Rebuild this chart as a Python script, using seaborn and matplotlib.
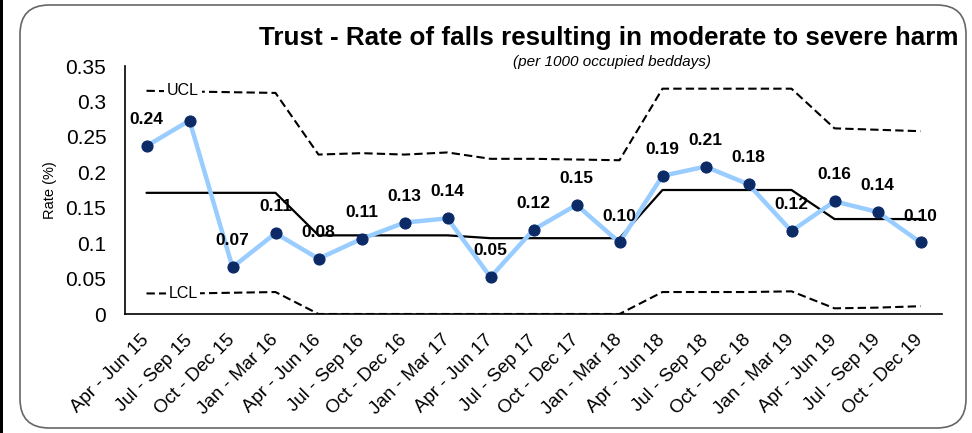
import matplotlib
matplotlib.use("Agg")
import matplotlib.pyplot as plt
from matplotlib.patches import FancyBboxPatch, Rectangle
import seaborn as sns
import pandas as pd

# quarters
quarters = ["Apr - Jun 15", "Jul - Sep 15", "Oct - Dec 15", "Jan - Mar 16",
            "Apr - Jun 16", "Jul - Sep 16", "Oct - Dec 16", "Jan - Mar 17",
            "Apr - Jun 17", "Jul - Sep 17", "Oct - Dec 17", "Jan - Mar 18",
            "Apr - Jun 18", "Jul - Sep 18", "Oct - Dec 18", "Jan - Mar 19",
            "Apr - Jun 19", "Jul - Sep 19", "Oct - Dec 19"]

# rate per 1000 occupied beddays
rate = [0.237, 0.273, 0.066, 0.114, 0.078, 0.106, 0.129, 0.135, 0.052, 0.119,
        0.154, 0.101, 0.195, 0.208, 0.183, 0.117, 0.159, 0.144, 0.101]
mean = [0.171, 0.171, 0.171, 0.171, 0.111, 0.111, 0.111, 0.111, 0.107, 0.107,
        0.107, 0.107, 0.175, 0.175, 0.175, 0.175, 0.134, 0.134, 0.134]
ucl = [0.315, 0.314, 0.313, 0.312, 0.225, 0.227, 0.225, 0.228, 0.219, 0.219,
       0.218, 0.217, 0.318, 0.318, 0.318, 0.318, 0.262, 0.260, 0.258]
lcl = [0.029, 0.029, 0.030, 0.031, 0.0, 0.0, 0.0, 0.0, 0.0, 0.0,
       0.0, 0.0, 0.031, 0.031, 0.031, 0.032, 0.008, 0.009, 0.011]
# Excel hid the label of the 2nd point
labels = ["0.24", "", "0.07", "0.11", "0.08", "0.11", "0.13", "0.14", "0.05", "0.12",
          "0.15", "0.10", "0.19", "0.21", "0.18", "0.12", "0.16", "0.14", "0.10"]

df = pd.DataFrame({"pos": range(len(quarters)), "rate": rate, "mean": mean,
                   "ucl": ucl, "lcl": lcl})

sns.set_theme(style="white")
plt.rcParams["font.family"] = ["Liberation Sans", "DejaVu Sans"]
plt.rcParams["text.color"] = "black"
plt.rcParams["axes.labelcolor"] = "black"
plt.rcParams["xtick.color"] = "black"
plt.rcParams["ytick.color"] = "black"

fig = plt.figure(figsize=(9.72, 4.33), dpi=100)
ax = fig.add_axes([125 / 972, 1 - 314 / 433, 817 / 972, 248 / 433])

dash = (0, (4, 2))
sns.lineplot(data=df, x="pos", y="ucl", ax=ax, color="black", lw=1.5, linestyle=dash)
sns.lineplot(data=df, x="pos", y="lcl", ax=ax, color="black", lw=1.5, linestyle=dash)
sns.lineplot(data=df, x="pos", y="mean", ax=ax, color="black", lw=1.6)
sns.lineplot(data=df, x="pos", y="rate", ax=ax, color="#99CCFF", lw=3.2,
             marker="o", markersize=8, markerfacecolor="#0B2A66",
             markeredgecolor="#0B2A66")

for i, txt in enumerate(labels):
    if txt:
        ax.annotate(txt, (i, rate[i]), xytext=(0, 19), textcoords="offset points",
                    ha="center", va="center", fontsize=12.5, fontweight="bold")

ax.text(0.85, ucl[0], "UCL", ha="center", va="center", fontsize=11.5,
        bbox=dict(facecolor="white", edgecolor="none", pad=2))
ax.text(0.85, lcl[0], "LCL", ha="center", va="center", fontsize=11.5,
        bbox=dict(facecolor="white", edgecolor="none", pad=2))

ax.set_xlim(-0.5, len(quarters) - 0.5)
ax.set_ylim(0, 0.35)
ax.set_yticks([0, 0.05, 0.1, 0.15, 0.2, 0.25, 0.3, 0.35])
ax.set_yticklabels(["0", "0.05", "0.1", "0.15", "0.2", "0.25", "0.3", "0.35"])
ax.set_yticks([i / 100 for i in range(36)], minor=True)
ax.set_xticks(range(len(quarters)))
ax.set_xticklabels(quarters, rotation=45, ha="right", va="center",
                   rotation_mode="anchor", fontsize=13.5)
ax.set_xticks([i - 0.5 for i in range(len(quarters) + 1)], minor=True)
ax.tick_params(axis="x", which="major", length=0, pad=17)
ax.tick_params(axis="x", which="minor", direction="out", length=4, width=1, color="black")
ax.tick_params(axis="y", which="major", direction="inout", length=9, width=1,
               color="black", labelsize=15, pad=9)
ax.tick_params(axis="y", which="minor", direction="in", length=3.5, width=0.8, color="black")
ax.set_xlabel("")
ax.set_ylabel("Rate (%)", fontsize=10.5, labelpad=6)
for s in ["top", "right"]:
    ax.spines[s].set_visible(False)
for s in ["left", "bottom"]:
    ax.spines[s].set_color("black")
    ax.spines[s].set_linewidth(1.2)

fig.text(609 / 972, 1 - 38 / 433, "Trust - Rate of falls resulting in moderate to severe harm",
         ha="center", va="center", fontsize=18.7, fontweight="bold")
fig.text(612 / 972, 1 - 62 / 433, "(per 1000 occupied beddays)", ha="center",
         va="center", fontsize=11, style="italic")

# rounded frame round the chart
frame = FancyBboxPatch((20 / 972, 5 / 433), 946 / 972, 423 / 433,
                       boxstyle="round,pad=0,rounding_size=0.03",
                       transform=fig.transFigure, fill=False,
                       edgecolor="#666666", lw=1.2, mutation_aspect=972 / 433)
fig.patches.append(frame)
# dark strip on the left edge of the screenshot
fig.patches.append(Rectangle((0, 0), 3 / 972, 1, transform=fig.transFigure,
                             facecolor="black", edgecolor="none"))

fig.savefig("out.png", dpi=100)
